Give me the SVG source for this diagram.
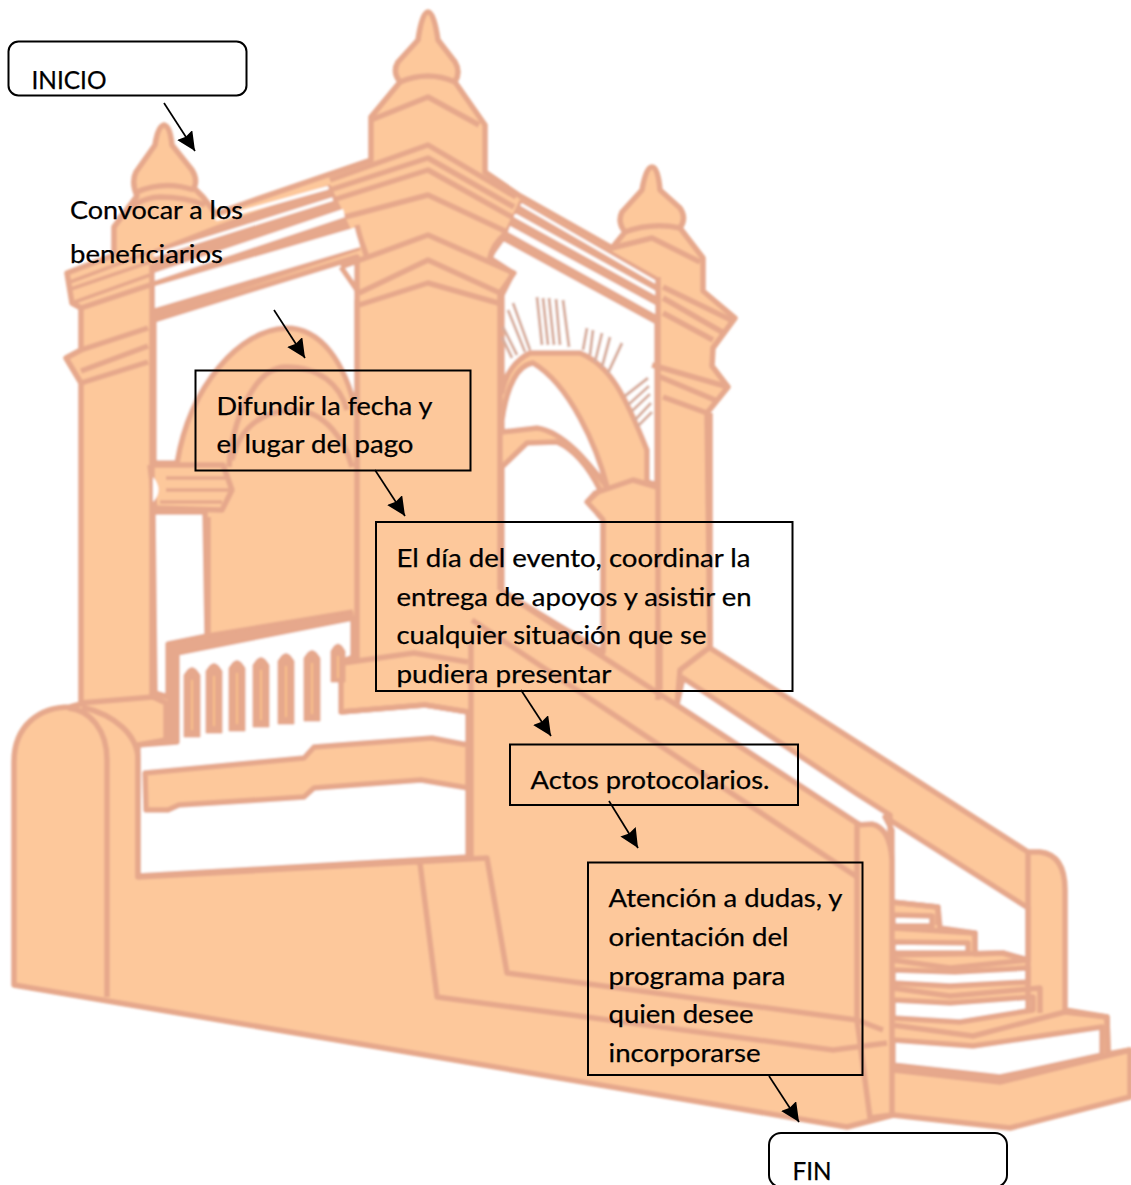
<svg xmlns="http://www.w3.org/2000/svg" width="1131" height="1185" viewBox="0 0 1131 1185">
<style>
.b{fill:#fdc89b;stroke:#e6a88c;stroke-width:5.5;stroke-linejoin:round}
.d{fill:#e6a88c;stroke:#e6a88c;stroke-width:1;stroke-linejoin:round}
.h{fill:#fff;stroke:#e6a88c;stroke-width:5.5;stroke-linejoin:round}
.w{fill:#fff;stroke:none}
.l{fill:none;stroke:#e6a88c;stroke-width:5.5;stroke-linejoin:round}
.t{fill:none;stroke:#e6a88c;stroke-width:3.5}
.s{fill:none;stroke:#fff;stroke-linecap:round}
.g{fill:none;stroke:#d8ad9c;stroke-width:3}
.vi{fill:none;stroke:#f9bf8a;stroke-width:2}
.n{fill:none;stroke:#000;stroke-width:2}
text{font-family:"Lato","Liberation Sans",sans-serif;font-size:25px;fill:#000;stroke:#000;stroke-width:.25}
.c{fill:none;stroke:#000;stroke-width:1.7;marker-end:url(#arr)}
</style>
<defs>
<filter id="soft" x="-2%" y="-2%" width="104%" height="104%"><feGaussianBlur stdDeviation="0.8"/></filter>
<marker id="arr" markerUnits="userSpaceOnUse" markerWidth="20" markerHeight="20" refX="19" refY="9" orient="auto"><path d="M0,0 L19,9 L0,18 L2,9 Z" fill="#000"/></marker>
</defs>
<rect width="1131" height="1185" fill="#fff"/>
<g id="edificio" filter="url(#soft)">
<path class="b" d="M14,985 L14,762 C14,725 40,707 70,707 L81,704 L81,383 L66,358 L81,350 L81,308 L72,303 L67,273 L114,255 L114,227 L137,196 Q131,182 136,172 L155,145 Q158,126 164,125 Q170,126 172,145 L192,170 Q198,180 194,188 L203,197 L216,214 L246,203 L371,160 L371,117 L400,82 Q392,72 398,62 L418,40 Q422,12 428,12 Q434,12 438,40 L455,62 Q461,72 455,82 L485,125 L485,172 L520,196 L612,248 L625,232 Q617,222 622,212 L642,190 Q646,167 652,167 Q658,167 660,190 L680,208 Q687,218 680,228 L703,258 L703,291 L735,318 L713,348 L712,366 L728,387 L707,413 L710,648 L1028,852 L1040,852 Q1065,855 1065,890 L1065,1010 L1107,1017 L1108,1054 L1130,1050 L1130,1097 L1010,1128 L893,1115 L847,1127 Z"/>
<!-- vanos -->
<path class="h" d="M154,320 L357,257 L357,415 C345,360 320,328 286,328 C240,330 190,385 177,463 L154,463 Z"/>
<path class="h" d="M153,512 L205,512 L207,636 L168,644 L168,697 L155,693 Z"/>
<path class="h" d="M177,653 L353,618 L353,657 L341,662 L341,712 L425,705 L468,712 L468,857 L138,876 L138,745 L177,742 Z"/>
<path class="h" d="M493,252 L503,238 L657,322 L657,485 L647,482 L647,450 C625,395 610,365 580,353 L530,353 C515,360 505,375 502,392 L502,295 L513,273 L490,258 Z"/>
<path class="h" d="M502,432 L537,428 C565,432 590,465 607,487 C597,447 570,385 533,363 C518,365 507,385 502,420 Z"/>
<path class="h" d="M502,467 L527,443 L557,442 C575,450 590,470 600,490 L587,502 L597,513 L603,520 L603,652 L502,591 Z"/>
<path class="h" d="M683,678 L857,794 L890,815 L890,840 L857,823 L677,705 Z"/>
<path class="h" d="M885,817 L1028,908 L1028,960 L1003,953 L975,954 L975,933 L940,928 L938,907 L892,902 L892,830 Z"/>
<!-- bolardo -->
<path class="b" d="M857,1020 L857,825 L872,824 Q890,828 892,860 L892,1115 L870,1118 Z"/>
<!-- escalones -->
<path class="h" d="M893,915 L932,916 L932,926 L893,926 Z"/>
<path class="h" d="M893,942 L968,943 L968,953 L893,953 Z"/>
<path class="h" d="M893,970 L955,972 L1028,968 L1028,982 L950,986 L893,983 Z"/>
<path class="h" d="M893,1000 L950,1003 L1033,997 L1033,1010 L960,1022 L893,1018 Z"/>
<path class="h" d="M893,1040 L973,1046 L1102,1027 L1102,1055 L1000,1077 L893,1065 Z"/>
<path class="l" d="M892,902 L938,907 L938,925 M892,928 L975,933 L975,953 M892,955 L1003,953 L1028,960 M892,960 L950,968 L1028,960 M892,988 L950,996 L1040,988 L1040,1013 M892,1025 L973,1036 L1065,1012 L1107,1017 L1108,1055"/>
<path class="l" d="M893,1070 L1000,1082 L1130,1050"/>
<!-- franjas de las vigas -->
<path class="d" d="M154,250 L216,226 L330,185 L360,250 L154,318 Z"/>
<path class="d" d="M520,200 L657,277 L657,320 L503,236 Z"/>
<path class="s" stroke-width="3.5" d="M217,219 L327,188"/>
<path class="s" stroke-width="3.5" d="M155,255 L333,199"/>
<path class="w" d="M154,273 L343,209 L345,217 L154,281 Z"/>
<path class="w" d="M155,286 L357,227 L360,247 L155,308 Z"/>
<path class="s" stroke-width="3" d="M522,205 L657,283"/>
<path class="s" stroke-width="4" d="M516,216 L657,294"/>
<path class="w" d="M510,226 L657,306 L657,315 L508,232 Z"/>
<!-- lineas de detalle -->
<path class="t" d="M68,290 L150,262 M72,303 L150,275 M70,282 L150,252"/>
<path class="l" d="M152,264 L152,700 M81,308 L150,285 M81,350 L148,328 M81,371 L148,346 M81,383 L148,362"/>
<path class="l" d="M330,180 L428,145 L516,197 M330,190 L428,158 L514,207 M333,200 L428,170 L512,217 M345,217 L428,195 L507,232"/>
<path class="l" d="M357,225 C360,240 365,250 367,258 M507,232 Q492,245 490,258 M341,267 L428,235 L514,273 L500,293 M359,293 L428,260 L500,293 M341,267 L359,293 M359,305 L428,283 L498,303 M357,300 L357,660 M500,293 L500,590"/>
<path class="l" d="M371,120 L428,97 L479,125 M400,82 Q428,70 455,82 M137,192 Q164,180 194,190 M118,220 Q135,198 160,197 Q185,197 205,205 M625,232 Q652,222 680,228 M612,248 L652,238 L700,262"/>
<path class="l" d="M663,287 L731,320 M663,298 L722,332 M663,313 L713,340 M658,277 L658,700 M710,413 L710,650 M652,365 L728,387 M663,397 L707,413 M658,376 L715,400"/>
<path class="l" d="M229,467 C232,420 255,367 286,367 C320,367 340,385 347,410 M232,460 C240,425 265,410 296,410 C325,412 345,440 352,467 M208,517 L208,636 L353,612 M357,420 L357,470"/>
<path class="l" d="M150,465 L223,465 L232,490 L222,510 L155,508 L150,465"/>
<path class="t" d="M166,478 L226,478 M166,490 L230,490 M160,502 L222,502"/>
<path class="w" d="M153,477 Q164,490 153,502 Z"/>
<path class="d" d="M168,644 L353,612 L353,618 L177,653 L177,743 L168,743 Z"/>
<path class="l" d="M80,703 L153,697 L166,703 L166,740 L138,745 M343,663 L414,653 L468,662 M341,712 L425,705 L468,712"/>
<path class="b" d="M145,773 L304,758 L314,747 L432,738 L468,745 L468,788 L421,780 L314,788 L304,797 L179,805 L168,810 L146,810 Z"/>
<path class="l" d="M68,708 C90,710 107,730 107,760 L107,997 M82,707 C115,715 138,735 138,760 L138,877 L487,858 L507,973 L857,1020 L883,1030 M420,863 L437,997 L833,1050 L887,1043 M471,640 L471,857 M472,620 L857,877 M502,591 L857,823 M603,520 L603,650 M660,640 L660,690 M710,647 L680,670 L677,705 M587,502 L595,493 L633,480 L657,487 M597,513 L603,520 M1028,852 L1028,1010"/>
<g id="tramas">
<path class="g" d="M513,303 L530,350 M508,310 L525,352 M503,327 L517,355 M502,337 L512,358"/>
<path class="g" d="M537,297 L542,345 M543,298 L548,345 M549,298 L554,345 M556,299 L560,345 M563,300 L569,347"/>
<path class="g" d="M587,328 L583,350 M593,330 L590,355 M602,333 L595,362 M610,337 L602,367 M622,343 L608,373"/>
<path class="g" d="M648,378 L625,396 M649,386 L628,405 M650,394 L632,411 M651,403 L635,420 M652,412 L638,426"/>
</g>
<path class="d" d="M184,737 L184,675 Q192,660 200,675 L200,737 Z M206,733 L206,671 Q214,656 222,671 L222,733 Z M229,731 L229,668 Q237,653 245,668 L245,731 Z M253,727 L253,665 Q261,650 269,665 L269,727 Z M278,724 L278,661 Q286,646 294,661 L294,724 Z M304,721 L304,658 Q312,643 320,658 L320,721 Z M331,682 L331,651 Q338,637 345,651 L345,682 Z"/>
<path class="vi" d="M192,680 L192,730 M214,676 L214,726 M237,673 L237,724 M261,670 L261,720 M286,666 L286,717 M312,663 L312,714 M338,656 L338,678"/>
</g>
<g id="conectores">
<path class="c" d="M164,103 L195,151"/>
<path class="c" d="M274,310 L305,358"/>
<path class="c" d="M375,470 L405,516"/>
<path class="c" d="M521,690 L551,736"/>
<path class="c" d="M609,801 L638,848"/>
<path class="c" d="M769,1076 L799,1122"/>
</g>
<g id="inicio"><rect class="n" x="8.5" y="41.5" width="238" height="54" rx="10"/><text x="31.5" y="89" textLength="75" lengthAdjust="spacingAndGlyphs">INICIO</text></g>
<g id="convocar"><text x="70" y="219" textLength="173" lengthAdjust="spacingAndGlyphs">Convocar a los</text><text x="70" y="263" textLength="153" lengthAdjust="spacingAndGlyphs">beneficiarios</text></g>
<g id="difundir"><rect class="n" x="195.5" y="370.5" width="275" height="100"/><text x="216.5" y="415" textLength="216" lengthAdjust="spacingAndGlyphs">Difundir la fecha y</text><text x="216.5" y="453" textLength="197" lengthAdjust="spacingAndGlyphs">el lugar del pago</text></g>
<g id="evento"><rect class="n" x="376" y="522" width="416.5" height="169"/><text x="396.5" y="567" textLength="354" lengthAdjust="spacingAndGlyphs">El día del evento, coordinar la</text><text x="396.5" y="606" textLength="355" lengthAdjust="spacingAndGlyphs">entrega de apoyos y asistir en</text><text x="396.5" y="644" textLength="310" lengthAdjust="spacingAndGlyphs">cualquier situación que se</text><text x="396.5" y="683" textLength="215" lengthAdjust="spacingAndGlyphs">pudiera presentar</text></g>
<g id="actos"><rect class="n" x="510" y="744.5" width="288" height="60.5"/><text x="530.5" y="789" textLength="239" lengthAdjust="spacingAndGlyphs">Actos protocolarios.</text></g>
<g id="atencion"><rect class="n" x="588" y="862.5" width="274.5" height="212.5"/><text x="608.5" y="907" textLength="234" lengthAdjust="spacingAndGlyphs">Atención a dudas, y</text><text x="608.5" y="946" textLength="180" lengthAdjust="spacingAndGlyphs">orientación del</text><text x="608.5" y="985" textLength="177" lengthAdjust="spacingAndGlyphs">programa para</text><text x="608.5" y="1023" textLength="145" lengthAdjust="spacingAndGlyphs">quien desee</text><text x="608.5" y="1062" textLength="152" lengthAdjust="spacingAndGlyphs">incorporarse</text></g>
<g id="fin"><rect class="n" x="769" y="1133" width="238" height="54" rx="12"/><text x="792.5" y="1180" textLength="39" lengthAdjust="spacingAndGlyphs">FIN</text></g>
</svg>
